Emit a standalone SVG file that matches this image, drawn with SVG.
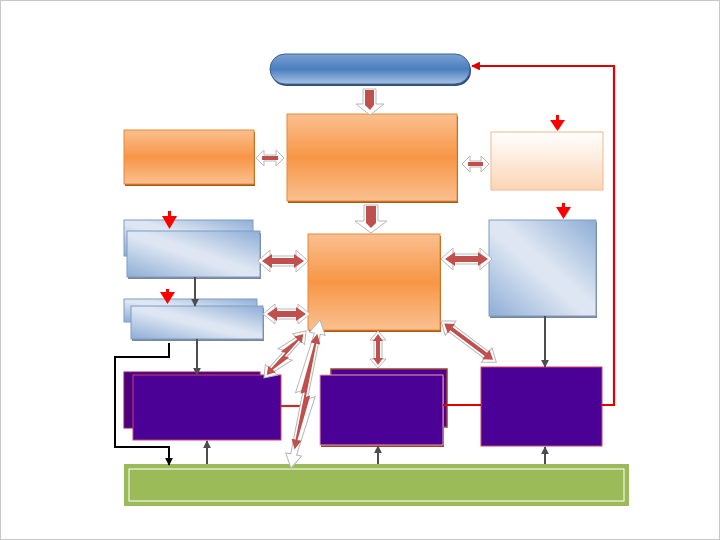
<svg xmlns="http://www.w3.org/2000/svg" width="720" height="540" viewBox="0 0 720 540">
<defs>
<linearGradient id="gOr" x1="0" y1="0" x2="0" y2="1"><stop offset="0" stop-color="#FAC090"/><stop offset="0.5" stop-color="#F79646"/><stop offset="1" stop-color="#FAC090"/></linearGradient>
<linearGradient id="gPeach" x1="0" y1="0" x2="0" y2="1"><stop offset="0" stop-color="#FFFFFF"/><stop offset="1" stop-color="#FBD5B5"/></linearGradient>
<linearGradient id="gBlue" x1="0" y1="1" x2="1" y2="0"><stop offset="0" stop-color="#8EADD6"/><stop offset="0.45" stop-color="#DDE6F2"/><stop offset="0.55" stop-color="#DDE6F2"/><stop offset="1" stop-color="#8EADD6"/></linearGradient>
<linearGradient id="gPill" x1="0" y1="0" x2="0" y2="1"><stop offset="0" stop-color="#7CA2D3"/><stop offset="0.5" stop-color="#4A7EBF"/><stop offset="1" stop-color="#A9C3E4"/></linearGradient>
<marker id="mGray" viewBox="0 0 10 10" refX="9" refY="5" markerWidth="4" markerHeight="4" orient="auto"><path d="M0,0 L10,5 L0,10 Z" fill="#4D4D4D"/></marker>
<marker id="mBlack" viewBox="0 0 10 10" refX="9" refY="5" markerWidth="4" markerHeight="4" orient="auto"><path d="M0,0 L10,5 L0,10 Z" fill="#000"/></marker>
<marker id="mRed" viewBox="0 0 10 10" refX="9" refY="5" markerWidth="4" markerHeight="4" orient="auto"><path d="M0,0 L10,5 L0,10 Z" fill="#E00000"/></marker>
<path id="dbl" d="M0,0 L10,-8 L10,-4 L40,-4 L40,-8 L50,0 L40,8 L40,4 L10,4 L10,8 Z"/>
</defs>
<style>
.or{fill:url(#gOr);stroke:#E8883A;stroke-width:1}
.shO{fill:#A85A14}
.bl{fill:url(#gBlue);stroke:#7F9CC4;stroke-width:1}
.shB{fill:#7A8798}
.pu{fill:#4B0096;stroke:#D0406A;stroke-width:1}
.out{fill:#FFFFFF;stroke:#B8B8B8;stroke-width:1}
.in{fill:#C0504D}
.gl{stroke:#4D4D4D;stroke-width:2;fill:none}
.rl{stroke:#E00000;stroke-width:2.2;fill:none}
.tri{fill:#FF0000}
</style>
<rect x="0.5" y="0.5" width="719" height="539" fill="#FFFFFF" stroke="#C8C8C8"/>

<g id="pill">
<rect x="271" y="56" width="200" height="30" rx="15" fill="#2E4F7A"/>
<rect x="270" y="54" width="200" height="30" rx="15" fill="url(#gPill)" stroke="#3C6396" stroke-width="1"/>
</g>
<g id="box-top">
<rect x="288" y="116" width="170" height="87" class="shO"/>
<rect x="287" y="114" width="170" height="87" class="or"/>
</g>
<g id="box-left">
<rect x="125" y="132" width="130" height="54" class="shO"/>
<rect x="124" y="130" width="130" height="54" class="or"/>
</g>
<g id="box-right-light">
<rect x="491" y="132" width="112" height="58" fill="url(#gPeach)" stroke="#F1B88C" stroke-width="1"/>
</g>
<g id="box-mid">
<rect x="309" y="236" width="132" height="96" class="shO"/>
<rect x="308" y="234" width="132" height="96" class="or"/>
</g>
<g id="blue1">
<rect x="124" y="220" width="129" height="36" class="bl"/>
<rect x="128" y="233" width="133" height="46" class="shB"/>
<rect x="127" y="231" width="133" height="46" class="bl"/>
</g>
<g id="blue2">
<rect x="124" y="299" width="133" height="23" class="bl"/>
<rect x="132" y="308" width="132" height="33" class="shB"/>
<rect x="131" y="306" width="132" height="33" class="bl"/>
</g>
<g id="blue-right">
<rect x="490" y="222" width="107" height="96" class="shB"/>
<rect x="489" y="220" width="107" height="96" class="bl"/>
</g>
<g id="purple-left">
<rect x="124" y="372" width="136" height="56" fill="#4B0082" stroke="#8A1A5A" stroke-width="1"/>
<rect x="133" y="375" width="148" height="65" class="pu"/>
</g>
<g id="purple-mid">
<rect x="331" y="369" width="116" height="58" fill="#4B0096" stroke="#A0402A" stroke-width="1.5"/>
<rect x="321" y="377" width="123" height="70" fill="#A0402A"/>
<rect x="320" y="375" width="123" height="70" class="pu" style="stroke:#F0A0A0"/>
</g>
<g id="purple-right">
<rect x="481" y="367" width="121" height="79" class="pu"/>
</g>
<g id="green-bar">
<rect x="124" y="464" width="505" height="42" fill="#9BBB59"/>
<rect x="129" y="469" width="495" height="32" fill="none" stroke="#FFFFFF" stroke-width="1"/>
</g>

<g id="connectors">
<!-- red feedback -->
<polyline class="rl" points="602,405 614,405 614,66 472,66" marker-end="url(#mRed)"/>
<line class="rl" x1="281" y1="406" x2="312" y2="406" style="stroke:#C0302A"/>
<line class="rl" x1="443" y1="405" x2="481" y2="405"/>
<!-- gray -->
<line class="gl" x1="195" y1="277" x2="195" y2="306" marker-end="url(#mGray)"/>
<line class="gl" x1="197" y1="339" x2="197" y2="375" marker-end="url(#mGray)"/>
<line class="gl" x1="545" y1="316" x2="545" y2="367" marker-end="url(#mGray)"/>
<line class="gl" x1="207" y1="464" x2="207" y2="441" marker-end="url(#mGray)"/>
<line class="gl" x1="378" y1="464" x2="378" y2="446" marker-end="url(#mGray)"/>
<line class="gl" x1="545" y1="464" x2="545" y2="447" marker-end="url(#mGray)"/>
<!-- black -->
<polyline points="169,343 169,357 115,357 115,447 169,447 169,465" fill="none" stroke="#000" stroke-width="2" marker-end="url(#mBlack)"/>
<!-- red triangles -->
<g class="tri">
<rect x="556" y="115" width="3" height="6"/><polygon points="550,120 565,120 557.5,131"/>
<rect x="562" y="203" width="3" height="6"/><polygon points="556,207 571,207 563.5,219"/>
<rect x="168" y="211" width="3" height="7"/><polygon points="162,216 177,216 169.5,229"/>
<rect x="166" y="289" width="3" height="6"/><polygon points="160,292 175,292 167.5,304"/>
</g>
<!-- block down arrows -->
<polygon class="out" points="363,89 376,89 376,104 384,104 370,115 356,104 363,104"/>
<polygon class="in" points="365,90 374,90 374,105 370,110 365,105"/>
<polygon class="out" points="364,205 378,205 378,221 387,221 371,233 355,221 364,221"/>
<polygon class="in" points="366,206 376,206 376,223 371,228 366,223"/>
<!-- horizontal double arrows -->
<polygon class="out" points="256,158 264,150 264,155 276,155 276,150 284,158 276,166 276,161 264,161 264,166"/>
<polygon class="in" points="262,156 278,156 278,160 262,160"/>
<polygon class="out" points="462,164 470,156 470,161 481,161 481,156 489,164 481,172 481,167 470,167 470,172"/>
<polygon class="in" points="468,162 483,162 483,166 468,166"/>
<polygon class="out" points="258,261 270,250 270,256 296,256 296,250 308,261 296,272 296,266 270,266 270,272"/>
<polygon class="in" points="262,261 272,254 272,258 294,258 294,254 304,261 294,268 294,264 272,264 272,268"/>
<polygon class="out" points="263,314 275,304 275,309 298,309 298,304 310,314 298,324 298,319 275,319 275,324"/>
<polygon class="in" points="267,314 277,307 277,311 296,311 296,307 306,314 296,321 296,317 277,317 277,321"/>
<polygon class="out" points="441,259 453,248 453,254 480,254 480,248 492,259 480,270 480,264 453,264 453,270"/>
<polygon class="in" points="445,259 455,252 455,256 478,256 478,252 488,259 478,266 478,262 455,262 455,266"/>
<!-- vertical double arrow -->
<polygon class="out" points="378,331 386,340 382,340 382,359 386,359 378,368 370,359 374,359 374,340 370,340"/>
<polygon class="in" points="378,334 383,341 380,341 380,358 383,358 378,365 373,358 376,358 376,341 373,341"/>
<!-- diagonal double arrow -->
<g transform="translate(441,321) rotate(36.7)">
<polygon class="out" points="0,0 12,-9 12,-4 57,-4 57,-9 69,0 57,9 57,4 12,4 12,9"/>
<polygon class="in" points="4,0 13,-6 13,-2 56,-2 56,-6 65,0 56,6 56,2 13,2 13,6"/>
</g>
<!-- lightning double arrows -->
<g transform="translate(306,331) rotate(131.8)">
<polygon class="out" points="0,0 11,-8 11,-3 34,-3 31,-9 52,-3 52,-8 63,0 52,8 52,3 29,3 32,9 11,3 11,8"/>
<polygon class="in" points="4,0 12,-5 12,-1 33,-1 31,-5 51,-1 51,-5 59,0 51,5 51,1 30,1 32,5 12,1 12,5"/>
</g>
<g transform="translate(320,320) rotate(101.1)">
<polygon class="out" points="0,0 14,-8 14,-3 80,-3 76,-10 137,-3 137,-8 151,0 137,8 137,3 72,3 76,10 14,3 14,8"/>
<polygon class="in" points="14,0 24,-5 24,-1 78,-1 76,-5 122,-1 122,-5 132,0 122,5 122,1 74,1 76,5 24,1 24,5"/>
</g>
</g>
</svg>
